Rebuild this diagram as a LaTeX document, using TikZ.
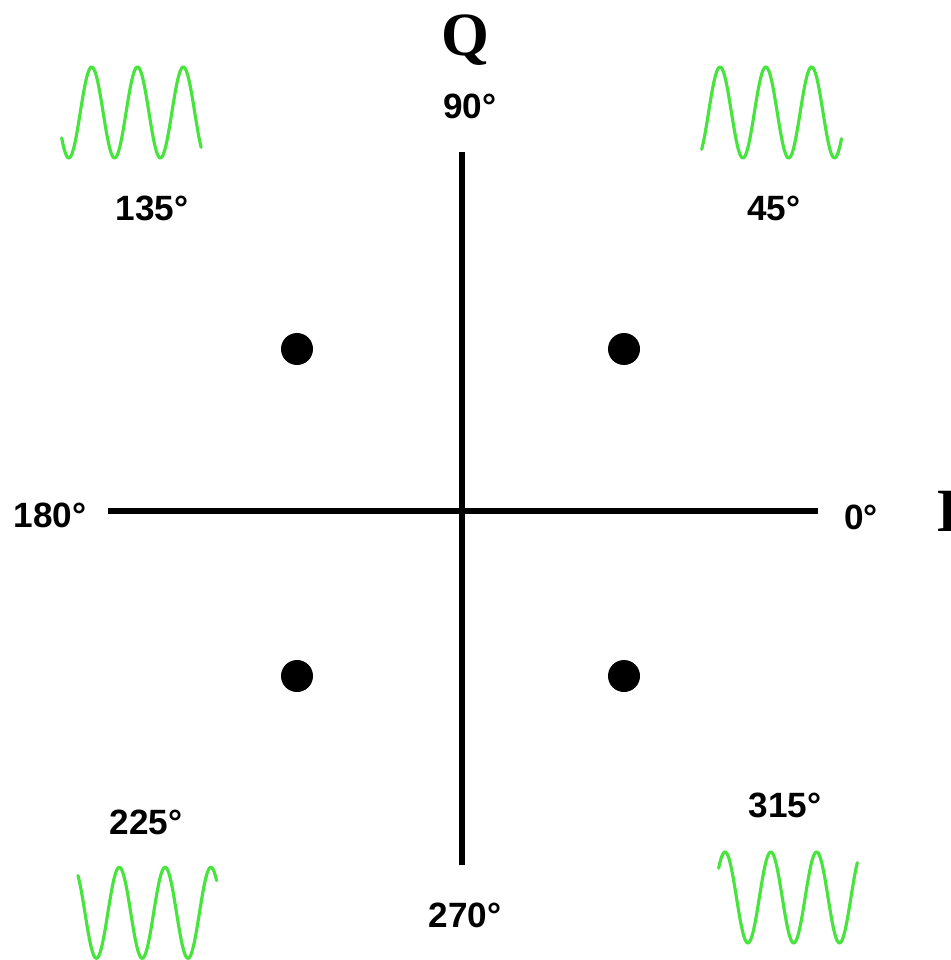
\documentclass[tikz,border=0pt]{standalone}
\usepackage{fontspec}
\setmainfont{Liberation Serif}
\newfontfamily\degfont{Liberation Sans}
\usepackage{tikz}
\definecolor{wavegreen}{RGB}{70,228,60}
\tikzstyle{axis} = [line width=3pt, black]
\tikzstyle{point} = [circle, fill=black, inner sep=0pt, minimum size=0.64cm]
\tikzstyle{angle} = [font=\degfont\bfseries\fontsize{20}{24}\selectfont, inner sep=0pt]
\tikzstyle{axisname} = [font=\bfseries\fontsize{35}{40}\selectfont, inner sep=0pt, text depth=0pt]
\tikzstyle{wave} = [line width=1.8pt, wavegreen, line join=round, line cap=round]

\begin{document}
\begin{tikzpicture}[x=0.02cm, y=-0.02cm]
\useasboundingbox (0,0) rectangle (950,960);
% axes
\coordinate (left) at (108,511);
\coordinate (right) at (818,511);
\coordinate (top) at (462,152);
\coordinate (bottom) at (462,865);
\draw[axis] (left) -- (right);
\draw[axis] (top) -- (bottom);
% constellation points
\node(p45) [point] at (624,349) {};
\node(p135) [point] at (297,349) {};
\node(p225) [point] at (297,676) {};
\node(p315) [point] at (624,676) {};
% axis names
\node(qname) [axisname] at (465,35) {Q};
\node(iname) [axisname] at (948,511) {I};
% phase labels
\node(a0) [angle] at (861,517) {0°};
\node(a45) [angle] at (774,208) {45°};
\node(a90) [angle] at (470,106) {90°};
\node(a135) [angle] at (152,208) {135°};
\node(a180) [angle] at (50,515) {180°};
\node(a225) [angle] at (146,822) {225°};
\node(a270) [angle] at (465,915) {270°};
\node(a315) [angle] at (785,805) {315°};
% carrier waveforms (period 45.8px, amplitude 45.5px)
\draw[wave] plot[domain=-236:860, samples=150] ({91.7+0.12722*\x}, {112.5-45.5*cos(\x)});
\draw[wave] plot[domain=-144:955, samples=150] ({720+0.12722*\x}, {112.5-45.5*cos(\x)});
\draw[wave] plot[domain=-325:765, samples=150] ({119.3+0.12722*\x}, {912.8-45.5*cos(\x)});
\draw[wave] plot[domain=-50:1040, samples=150] ({725+0.12722*\x}, {897.5-45.5*cos(\x)});
\end{tikzpicture}
\end{document}
